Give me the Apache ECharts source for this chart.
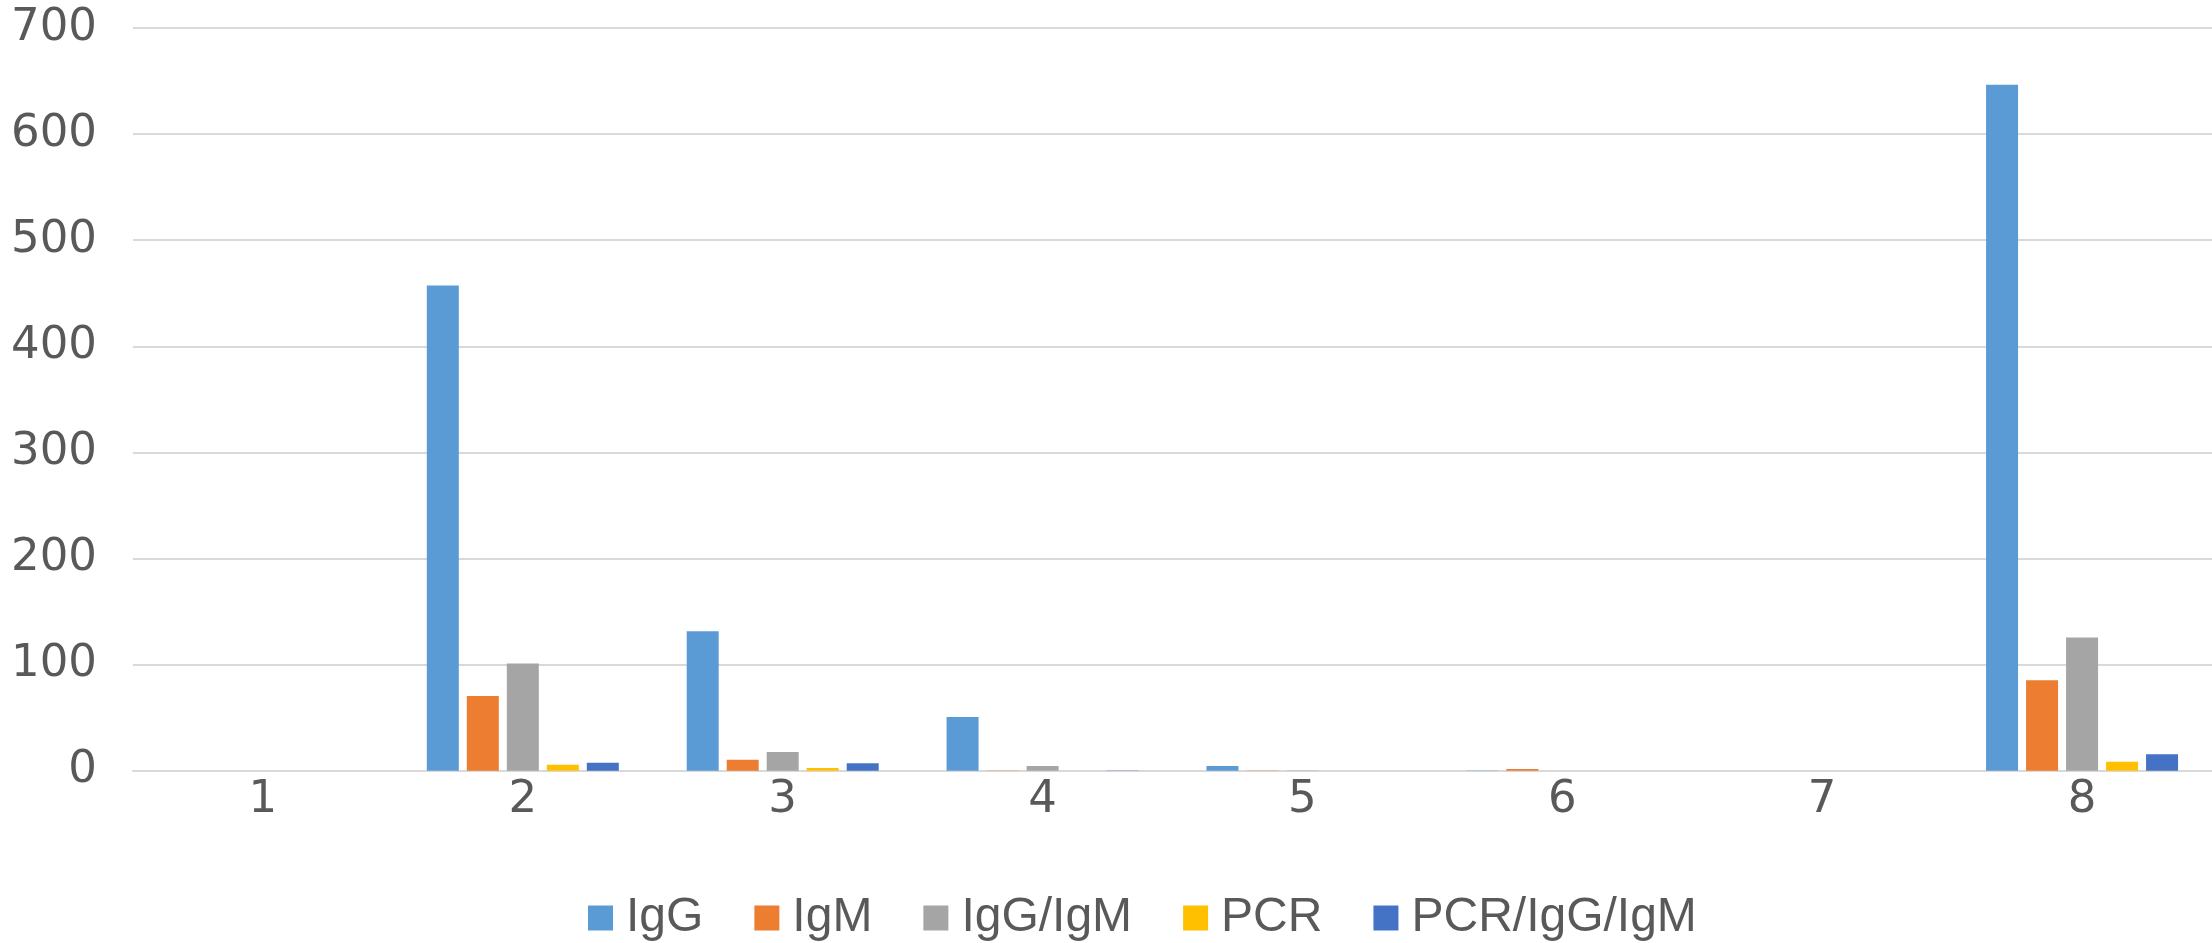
<!DOCTYPE html>
<html style="height: 100%">

<head>
    <meta charset="utf-8">
    <title>IgG / IgM / PCR</title>
</head>

<body style="height: 100%; margin: 0; background: #fff">
    <div id="container" style="width: 2212px; height: 943px"></div>
    <script src="https://cdn.jsdelivr.net/npm/echarts@6/dist/echarts.min.js"></script>
    <script type="text/javascript">
        var categories = ['1', '2', '3', '4', '5', '6', '7', '8'];
        var igg = [0, 457.3, 131.5, 50.6, 4.4, 0.3, 0, 646.6];
        var igm = [0, 70.4, 10.4, 0.3, 0.3, 1.6, 0, 85.3];
        var iggIgm = [0, 101, 17.6, 4.4, 0.3, 0, 0, 125.5];
        var pcr = [0, 5.7, 2.5, 0, 0, 0, 0, 8.5];
        var pcrIggIgm = [0, 7.5, 7, 0.3, 0, 0, 0, 15.5];
        var yTicks = [0, 100, 200, 300, 400, 500, 600, 700];

        var myChart = echarts.init(document.getElementById('container'));

        function bar(name, data, color) {
            return {
                name: name,
                type: 'bar',
                data: data,
                barWidth: 32,
                barGap: '25%',
                itemStyle: { color: color },
                animation: false
            };
        }

        var option = {
            animation: false,
            grid: {
                left: 133,
                top: 28,
                width: 2094,
                height: 742.7,
                containLabel: false
            },
            legend: {
                top: 889,
                left: 583,
                itemWidth: 25,
                itemHeight: 25,
                itemGap: 51,
                icon: 'rect',
                textStyle: {
                    fontFamily: 'Liberation Sans',
                    fontSize: 48,
                    color: '#595959',
                    padding: [0, 0, 0, 8]
                },
                data: ['IgG', 'IgM', 'IgG/IgM', 'PCR', 'PCR/IgG/IgM']
            },
            xAxis: {
                type: 'category',
                data: categories,
                axisLine: { lineStyle: { color: '#d9d9d9', width: 2 } },
                axisTick: { show: false },
                axisLabel: {
                    margin: 7,
                    fontFamily: 'DejaVu Sans',
                    fontSize: 45,
                    color: '#595959'
                }
            },
            yAxis: {
                type: 'value',
                min: yTicks[0],
                max: yTicks[yTicks.length - 1],
                interval: 100,
                axisLine: { show: false },
                axisTick: { show: false },
                splitLine: { lineStyle: { color: '#d9d9d9', width: 2 } },
                axisLabel: {
                    margin: 36,
                    fontFamily: 'DejaVu Sans',
                    fontSize: 45,
                    color: '#595959'
                }
            },
            series: [
                bar('IgG', igg, '#5b9bd5'),
                bar('IgM', igm, '#ed7d31'),
                bar('IgG/IgM', iggIgm, '#a5a5a5'),
                bar('PCR', pcr, '#ffc000'),
                bar('PCR/IgG/IgM', pcrIggIgm, '#4472c4')
            ]
        };
        myChart.setOption(option);
    </script>
</body>

</html>
